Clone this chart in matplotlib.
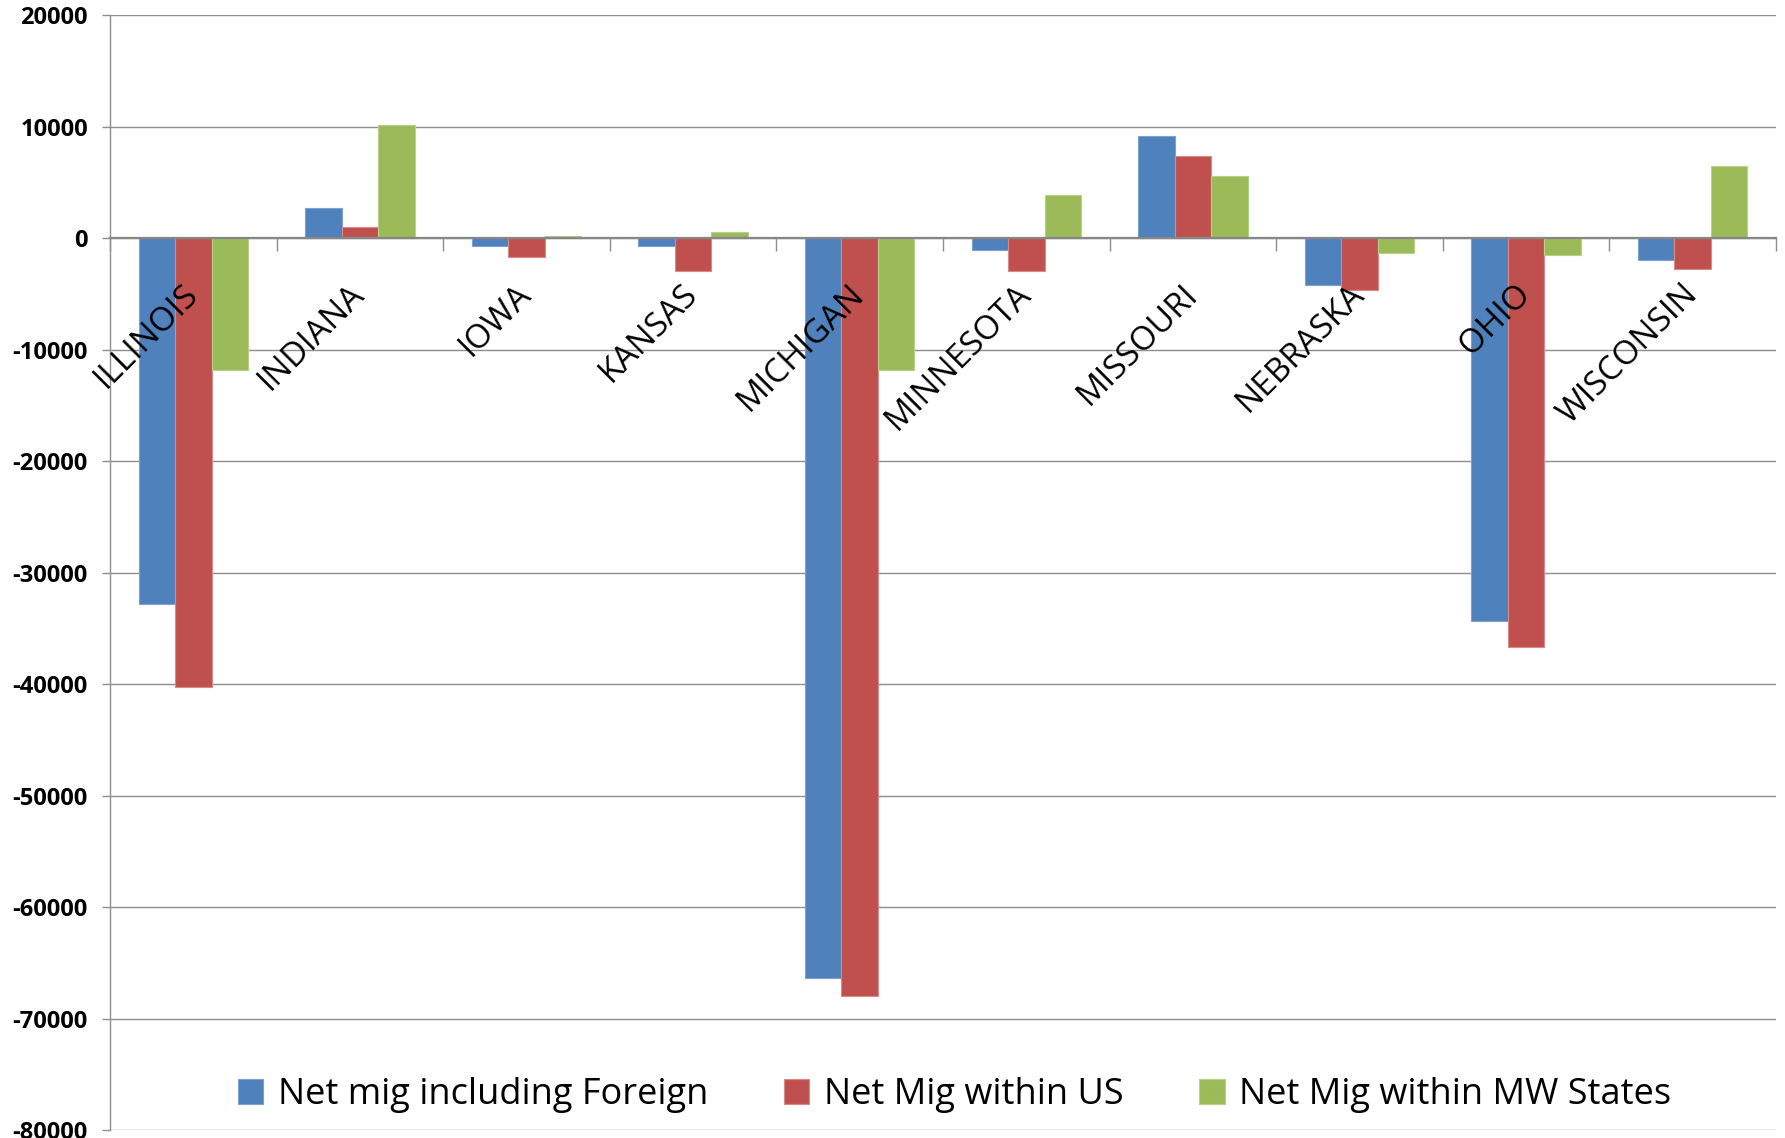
import matplotlib
matplotlib.use("Agg")
import matplotlib.pyplot as plt
import numpy as np

states = ["ILLINOIS", "INDIANA", "IOWA", "KANSAS", "MICHIGAN", "MINNESOTA",
          "MISSOURI", "NEBRASKA", "OHIO", "WISCONSIN"]
net_foreign = [-32800, 2650, -740, -750, -66400, -1040, 9120, -4240, -34350, -2000]
net_us = [-40300, 1020, -1700, -2960, -68000, -2960, 7390, -4690, -36700, -2780]
net_mw = [-11850, 10100, 215, 510, -11870, 3860, 5600, -1345, -1525, 6430]
series_names = ["Net mig including Foreign", "Net Mig within US", "Net Mig within MW States"]
colors = ["#4F81BD", "#C0504D", "#9BBB59"]
edges = ["#7DA0D0", "#D88A88", "#B9D08A"]
yticks = list(range(-80000, 20001, 10000))

plt.rcParams['font.family'] = ['Open Sans', 'DejaVu Sans']

fig = plt.figure(figsize=(17.85, 11.38), dpi=100)
ax = fig.add_axes([110/1785, 1-1130/1138, (1776-110)/1785, (1130-15)/1138])

x = np.arange(len(states))
w = 0.219
for i, (vals, name) in enumerate(zip([net_foreign, net_us, net_mw], series_names)):
    ax.bar(x + 0.5 + (i-1)*w, vals, width=w, color=colors[i], edgecolor=edges[i],
           linewidth=0.8, label=name, zorder=2)

ax.set_xlim(0, len(states))
ax.set_ylim(-80000, 20000)
ax.set_yticks(yticks)
ax.set_yticklabels([str(v) for v in yticks], fontsize=17, fontweight='bold')
for v in yticks:
    ax.axhline(v, color='#8E8E8E', linewidth=1.0, zorder=0)
ax.set_axisbelow(False)

for s in ['top', 'right']:
    ax.spines[s].set_visible(False)
ax.spines['left'].set_color('#8E8E8E')
ax.spines['left'].set_linewidth(1.0)
ax.spines['bottom'].set_position(('data', 0))
ax.spines['bottom'].set_color('#868686')
ax.spines['bottom'].set_linewidth(1.6)

ax.tick_params(axis='y', length=6, width=1, color='#8E8E8E', pad=10)

ax.set_xticks(np.arange(0, len(states)+1))
ax.set_xticklabels([])
ax.set_xticks(x + 0.5, minor=True)
ax.set_xticklabels(states, minor=True, fontsize=24)
ax.tick_params(axis='x', which='major', direction='out', length=9, width=1, color='#8E8E8E')
ax.tick_params(axis='x', which='minor', length=0, pad=37)
for lab in ax.get_xticklabels(minor=True):
    lab.set_rotation(45)
    lab.set_ha('right')
    lab.set_va('center')
    lab.set_rotation_mode('anchor')

ax.legend(loc='center', bbox_to_anchor=(0.507, 0.031), ncol=3, frameon=False,
          fontsize=26, handlelength=0.7, handleheight=0.7, handletextpad=0.4,
          columnspacing=2.1)

fig.savefig("out.png", dpi=100)
